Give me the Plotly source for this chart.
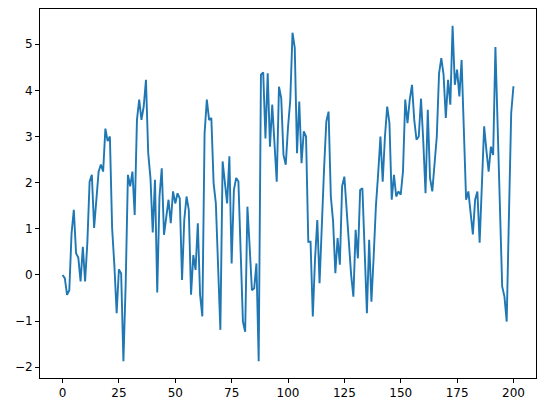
import plotly.graph_objects as go

# series values, index 0..200
y_0_49 = [0.0, -0.07, -0.43, -0.33, 0.90, 1.41, 0.47, 0.37, -0.14, 0.61,
          -0.14, 0.70, 2.02, 2.17, 1.02, 1.70, 2.24, 2.39, 2.24, 3.17,
          2.90, 3.00, 1.00, 0.20, -0.83, 0.12, 0.03, -1.87, -0.20, 2.17,
          1.92, 2.24, 1.30, 3.36, 3.80, 3.36, 3.65, 4.23, 2.64, 2.10,
          0.92, 2.06, -0.38, 1.70, 2.31, 0.87, 1.25, 1.63, 1.12, 1.81]
y_50_99 = [1.55, 1.77, 1.66, -0.11, 1.20, 1.70, 1.41, -0.43, 0.43, 0.11,
           1.12, -0.43, -0.90, 3.07, 3.80, 3.36, 3.40, 1.99, 1.55, 0.30,
           -1.19, 2.46, 1.92, 1.55, 2.57, 0.25, 1.84, 2.10, 2.03, 0.50,
           -1.01, -1.23, 1.48, 0.60, -0.33, -0.29, 0.25, -1.87, 4.34, 4.39,
           2.96, 4.37, 2.78, 3.69, 2.90, 2.02, 4.08, 3.83, 2.60, 2.39]
y_100_149 = [3.20, 3.78, 5.25, 4.92, 2.64, 3.76, 2.42, 3.11, 3.00, 0.72,
             0.72, -0.90, 0.35, 1.19, -0.18, 1.30, 2.30, 3.33, 3.54, 1.70,
             1.16, 0.04, 0.80, 0.22, 1.92, 2.13, 1.35, 0.55, 0.00, -0.47,
             0.98, 0.36, 1.84, 1.88, 0.60, -0.83, 0.76, -0.58, 0.40, 1.50,
             2.20, 3.00, 2.02, 3.00, 3.65, 3.29, 1.63, 2.17, 1.70, 1.81]
y_150_200 = [1.74, 2.24, 3.80, 3.29, 3.80, 4.12, 3.36, 2.93, 3.00, 3.82,
             2.90, 1.77, 3.58, 2.10, 1.81, 2.40, 3.00, 4.37, 4.70, 4.34,
             3.40, 4.23, 3.69, 5.40, 4.12, 4.45, 3.87, 4.66, 3.20, 1.63,
             1.81, 1.30, 0.88, 1.63, 1.81, 0.70, 2.00, 3.22, 2.70, 2.24,
             2.78, 2.60, 4.94, 3.20, 1.40, -0.25, -0.47, -1.01, 1.30, 3.51,
             4.09]

y = y_0_49 + y_50_99 + y_100_149 + y_150_200
x = list(range(len(y)))

x_ticks = [0, 25, 50, 75, 100, 125, 150, 175, 200]
y_ticks = [-2, -1, 0, 1, 2, 3, 4, 5]

# matplotlib-like 5% margins
xpad = 0.05 * (max(x) - min(x))
ypad = 0.05 * (max(y) - min(y))

fig = go.Figure(go.Scatter(x=x, y=y, mode="lines",
                           line=dict(color="#1f77b4", width=1.9)))

axis_style = dict(showgrid=False, zeroline=False, showline=True, mirror=True,
                  linecolor="black", linewidth=1, ticks="outside", ticklen=4,
                  tickcolor="black", automargin=False,
                  tickfont=dict(family="DejaVu Sans", size=12, color="black"))

fig.update_xaxes(range=[min(x) - xpad, max(x) + xpad], tickvals=x_ticks, **axis_style)
fig.update_yaxes(range=[min(y) - ypad, max(y) + ypad], tickvals=y_ticks, **axis_style)

# page body adds ~8px offset, so the figure is a bit smaller than the window
fig.update_layout(width=538, height=405, showlegend=False,
                  margin=dict(l=32, r=10, t=1, b=35),
                  plot_bgcolor="white", paper_bgcolor="white")

fig.write_html("out.html")
